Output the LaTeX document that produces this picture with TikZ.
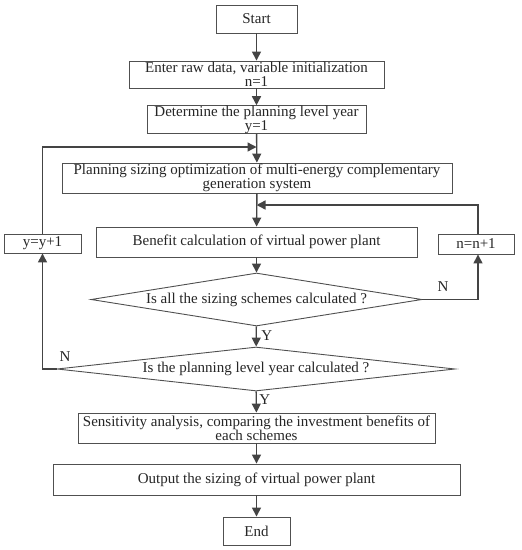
\documentclass[tikz,border=0pt]{standalone}
\usepackage{fontspec}
\setmainfont{Liberation Serif}
\usetikzlibrary{shapes.geometric,arrows.meta}
\definecolor{linec}{HTML}{444444}
\definecolor{boxc}{HTML}{505050}
\begin{document}
\begin{tikzpicture}[x=1pt,y=-1pt,
  every node/.style={font=\fontsize{15}{14}\selectfont, text=black!85},
  box/.style={draw=boxc, line width=0.9pt, rectangle, inner sep=0pt, align=center},
  dia/.style={draw=boxc, line width=0.9pt, diamond, inner sep=0pt, align=center},
  arr/.style={draw=linec, line width=1.4pt, -{Triangle[length=9pt,width=9pt]}},
  lab/.style={font=\fontsize{15}{14}\selectfont}]
\useasboundingbox[fill=white] (0,0) rectangle (522,550);
\node[box, minimum width=81pt, minimum height=28pt] (start) at (256.5,19) {Start};
\node[box, minimum width=255pt, minimum height=27pt] (enter) at (256.5,74.5) {Enter raw data, variable initialization\\n=1};
\node[box, minimum width=219pt, minimum height=25pt] (det) at (256.5,119.5) {Determine the planning level year\\y=1};
\node[box, minimum width=390pt, minimum height=30pt] (plan) at (257,178) {Planning sizing optimization of multi-energy complementary\\generation system};
\node[box, minimum width=321pt, minimum height=30pt] (ben) at (256.5,242) {Benefit calculation of virtual power plant};
\node[box, minimum width=77pt, minimum height=19pt] (yy) at (42.5,243.5) {y=y+1};
\node[box, minimum width=76pt, minimum height=20pt] (nn) at (476,244) {n=n+1};
\node[dia, aspect=6.2, minimum width=331pt, minimum height=53pt] (d1) at (256.5,299.5) {Is all the sizing schemes calculated ?};
\node[dia, aspect=9, minimum width=398pt, minimum height=44pt] (d2) at (256,369) {Is the planning level year calculated ?};
\node[box, minimum width=357pt, minimum height=30pt] (sens) at (256.5,428) {Sensitivity analysis, comparing the investment benefits of\\each schemes};
\node[box, minimum width=407pt, minimum height=31pt] (out) at (256.5,479.5) {Output the sizing of virtual power plant};
\node[box, minimum width=67pt, minimum height=28pt] (end) at (256.5,531) {End};

\coordinate (joinA) at (256.5,147);
\coordinate (joinB) at (256.5,205);
\coordinate (cornA) at (42.5,147);
\coordinate (cornB) at (478,205);
\coordinate (cornC) at (478,299.5);
\coordinate (cornD) at (42.5,369);

\draw[arr] (start) -- (enter);
\draw[arr] (enter) -- (det);
\draw[arr] (det) -- (plan);
\draw[arr] (plan) -- (ben);
\draw[arr] (ben) -- (d1);
\draw[arr] (d1) -- node[lab, right, xshift=1pt, pos=0.45] {Y} (d2);
\draw[arr] (d2) -- node[lab, right, xshift=-1pt, pos=0.4] {Y} (sens);
\draw[arr] (sens) -- (out);
\draw[arr] (out) -- (end);

\draw[arr] (yy.north) -- (cornA) -- (joinA);
\draw[arr] (nn.north -| cornB) -- (cornB) -- (joinB);
\draw[arr] (d1.east) -- (cornC) -- (nn.south -| cornC);
\draw[arr] (d2.west) -- (cornD) -- (yy.south);
\node[lab] (n1) at (443,287) {N};
\node[lab] (n2) at (65,357) {N};
\end{tikzpicture}
\end{document}
